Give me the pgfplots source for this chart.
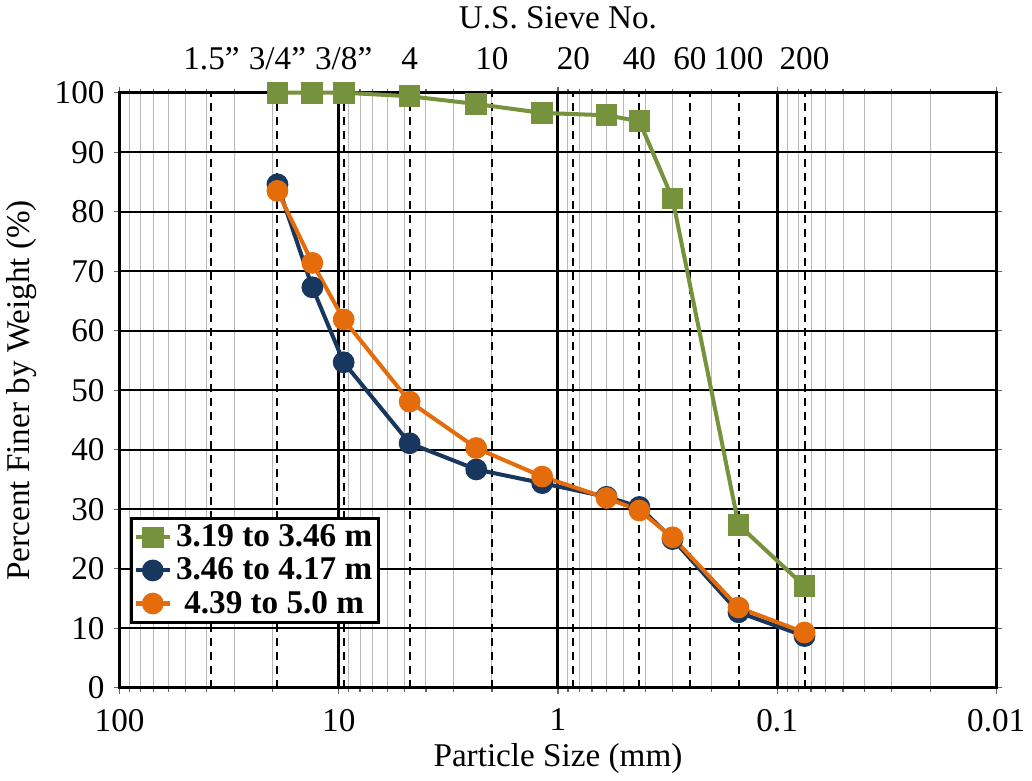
\documentclass[border=0pt]{standalone}
\usepackage{fontspec}
\setmainfont{Liberation Serif}
\usepackage{pgfplots}
\pgfplotsset{compat=1.18}

\definecolor{cgreen}{RGB}{118,146,60}
\definecolor{cnavy}{RGB}{23,55,94}
\definecolor{corange}{RGB}{228,108,10}

\begin{document}
\begin{tikzpicture}
\pgfplotsset{every axis/.append style={
  width=436pt, height=296pt, scale only axis,
  xmode=log, x dir=reverse, xmin=0.01, xmax=100,
  ymin=0, ymax=100,
  /pgf/number format/assume math mode=true,
  tick label style={font=\fontsize{16.5}{18}\selectfont},
  label style={font=\fontsize{16.5}{18}\selectfont},
}}
\begin{axis}[
  axis line style={line width=1.5pt},
  xtick={100,10,1,0.1,0.01},
  xticklabels={100,10,1,0.1,0.01},
  minor xtick={20,30,40,50,60,70,80,90,2,3,4,5,6,7,8,9,0.2,0.3,0.4,0.5,0.6,0.7,0.8,0.9,0.02,0.03,0.04,0.05,0.06,0.07,0.08,0.09},
  ytick={0,10,...,100},
  grid=both,
  major x grid style={black, line width=1.5pt},
  major y grid style={black, line width=0.9pt},
  minor grid style={gray!55, line width=0.5pt},
  tick align=outside, major tick length=3pt, minor tick length=2pt,
  tick style={black!60, line width=0.6pt},
  xticklabel style={yshift=-4pt},
  yticklabel style={xshift=-1pt},
  extra x ticks={38.1,19.05,9.5,4.75,2,0.85,0.425,0.25,0.15,0.075},
  extra x tick labels={},
  extra x tick style={major tick length=0pt,
    major x grid style={black, line width=1pt, dash pattern=on 4pt off 3pt}},
  xlabel={Particle Size (mm)},
  ylabel={Percent Finer by Weight (\%)},
  xlabel style={yshift=4pt},
  ylabel style={yshift=2pt},
  clip=false,
  legend style={at={(0.012,0.108)}, anchor=south west, draw=black,
    line width=1.5pt, font=\fontsize{16.5}{17}\selectfont\bfseries,
    inner sep=1pt, row sep=0pt, cells={anchor=west}},
  legend cell align=left,
]
\addplot[cgreen, line width=2pt, mark=square*, mark size=4.4pt,
  mark options={draw=cgreen, fill=cgreen}] coordinates {
  (19.05,100) (13.2,100) (9.5,100) (4.75,99.4) (2.36,98.1) (1.18,96.6)
  (0.6,96.2) (0.425,95.2) (0.3,82.2) (0.15,27.4) (0.075,17.1)};
\addlegendentry{3.19 to 3.46 m}
\addplot[cnavy, line width=2pt, mark=*, mark size=4.4pt,
  mark options={draw=cnavy, fill=cnavy}] coordinates {
  (19.05,84.6) (13.2,67.3) (9.5,54.7) (4.75,41.1) (2.36,36.7) (1.18,34.4)
  (0.6,32.1) (0.425,30.4) (0.3,25.0) (0.15,12.7) (0.075,8.7)};
\addlegendentry{3.46 to 4.17 m}
\addplot[corange, line width=2pt, mark=*, mark size=4.4pt,
  mark options={draw=corange, fill=corange}] coordinates {
  (19.05,83.5) (13.2,71.4) (9.5,61.9) (4.75,48.1) (2.36,40.3) (1.18,35.5)
  (0.6,31.9) (0.425,29.8) (0.3,25.3) (0.15,13.5) (0.075,9.3)};
\addlegendentry{\ 4.39 to 5.0 m}
\end{axis}
\begin{axis}[
  axis x line*=top, axis y line=none,
  xtick={38.1,19.05,9.5,4.75,2,0.85,0.425,0.25,0.15,0.075},
  xticklabels={1.5”,3/4”,3/8”,4,10,20,40,60,100,200},
  minor xtick={}, major tick length=0pt,
  axis line style={draw=none},
  xlabel={U.S. Sieve No.},
  xticklabel style={yshift=8pt},
  xlabel style={yshift=2pt},
]
\addplot[draw=none] coordinates {(1,50)};
\end{axis}
\end{tikzpicture}
\end{document}
